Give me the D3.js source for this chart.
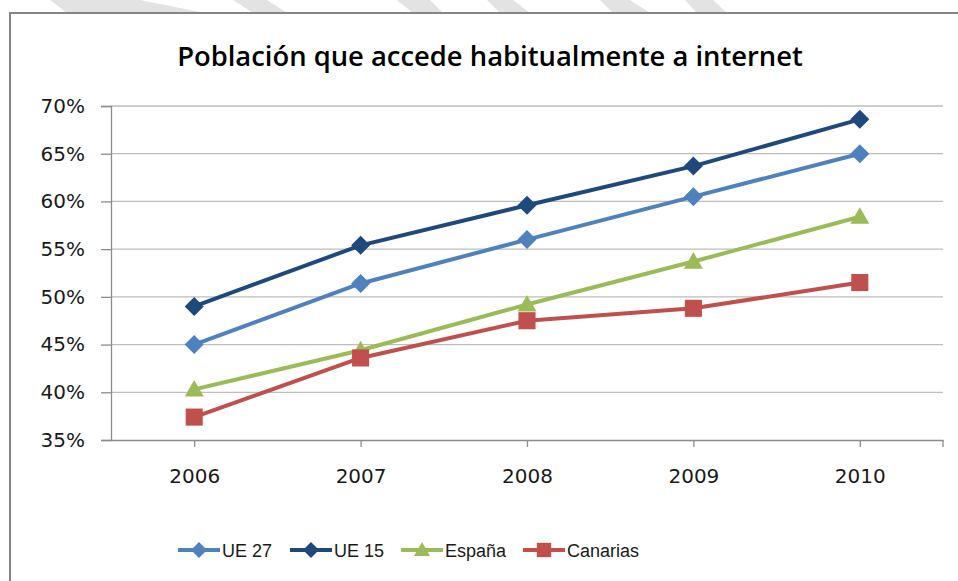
<!DOCTYPE html>
<html>
<head>
<meta charset="utf-8">
<script src="https://cdn.jsdelivr.net/npm/d3@7/dist/d3.min.js"></script>
<style>
  body { margin: 0; background: #fff; }
  svg { display: block; }
</style>
</head>
<body>
<div id="chart"></div>
<script>
// Datos
const years    = ['2006', '2007', '2008', '2009', '2010'];
const ue27     = [45.0, 51.4, 56.0, 60.5, 65.0];
const ue15     = [49.0, 55.4, 59.6, 63.7, 68.6];
const espana   = [40.3, 44.4, 49.2, 53.7, 58.4];
const canarias = [37.4, 43.6, 47.5, 48.8, 51.5];
const yTicks   = [35, 40, 45, 50, 55, 60, 65, 70];

const series = [
    { name: 'UE 27',    values: ue27,     color: '#4F81BD', shape: 'diamond'  },
    { name: 'UE 15',    values: ue15,     color: '#1F497D', shape: 'diamond'  },
    { name: 'España',   values: espana,   color: '#9BBB59', shape: 'triangle' },
    { name: 'Canarias', values: canarias, color: '#C0504D', shape: 'square'   }
];

const W = 958, H = 581;
const plot = { left: 111, right: 943, top: 106, bottom: 440 };

const svg = d3.select('#chart').append('svg')
    .attr('width', W).attr('height', H);

// franjas grises diagonales arriba (artefacto de la captura)
const stripes = [[50, 140, 67, 205], [233, 267, 253, 287], [397, 430, 413, 443],
                 [487, 513, 500, 530], [600, 630, 613, 650], [685, 713, 697, 727]];
svg.append('g').selectAll('path').data(stripes).join('path')
    .attr('d', s => `M${s[0]},0 L${s[1]},0 L${s[3]},13 L${s[2]},13 Z`)
    .attr('fill', '#e3e3e3');

// marco del gráfico
svg.append('rect')
    .attr('x', 10).attr('y', 13)
    .attr('width', W + 20).attr('height', H + 20)
    .attr('fill', '#fff')
    .attr('stroke', '#858585').attr('stroke-width', 2);

const x = d3.scalePoint().domain(years).range([plot.left, plot.right]).padding(0.5);
const y = d3.scaleLinear().domain([35, 70]).range([plot.bottom, plot.top]);

const g = svg.append('g');

// rejilla
g.append('g').selectAll('line').data(yTicks.filter(t => t > 35)).join('line')
    .attr('x1', plot.left).attr('x2', plot.right)
    .attr('y1', d => y(d)).attr('y2', d => y(d))
    .attr('stroke', '#bdbdbd').attr('stroke-width', 1.3);

// eje Y
const yAxis = g.append('g')
    .attr('transform', `translate(${plot.left},0)`)
    .call(d3.axisLeft(y).tickValues(yTicks).tickFormat(d => d + '%').tickSize(10).tickPadding(16));
yAxis.select('.domain').attr('stroke', '#8c8c8c').attr('stroke-width', 1.3);
yAxis.selectAll('.tick line').attr('stroke', '#8c8c8c').attr('stroke-width', 1.3);
yAxis.selectAll('.tick text')
    .style('font-family', '"DejaVu Sans", sans-serif')
    .style('font-size', '20px').style('fill', '#1a1a1a');

// eje X
const xAxis = g.append('g')
    .attr('transform', `translate(0,${plot.bottom})`)
    .call(d3.axisBottom(x).tickSize(7).tickPadding(22).tickSizeOuter(0));
xAxis.select('.domain').attr('stroke', '#8c8c8c').attr('stroke-width', 1.3);
xAxis.selectAll('.tick line').attr('stroke', '#8c8c8c').attr('stroke-width', 1.3);
xAxis.selectAll('.tick text')
    .style('font-family', '"DejaVu Sans", sans-serif')
    .style('font-size', '20px').style('fill', '#1a1a1a');
xAxis.append('line')
    .attr('x1', plot.right).attr('x2', plot.right).attr('y1', 0).attr('y2', 7)
    .attr('stroke', '#8c8c8c').attr('stroke-width', 1.3);

// marcadores
const symbolPath = (shape, s) => {
    if (shape === 'diamond') return `M0,${-s} L${s},0 L0,${s} L${-s},0 Z`;
    if (shape === 'square')  return `M${-s * 0.9},${-s * 0.9} h${s * 1.8} v${s * 1.8} h${-s * 1.8} Z`;
    return `M0,${-s} L${s},${s * 0.75} L${-s},${s * 0.75} Z`;
};

const line = d3.line().x((d, i) => x(years[i])).y(d => y(d));

series.forEach(s => {
    g.append('path')
        .attr('d', line(s.values))
        .attr('fill', 'none').attr('stroke', s.color)
        .attr('stroke-width', 4).attr('stroke-linejoin', 'round');
    g.append('g').selectAll('path').data(s.values).join('path')
        .attr('transform', (d, i) => `translate(${x(years[i])},${y(d)})`)
        .attr('d', symbolPath(s.shape, 9.5))
        .attr('fill', s.color);
});

// título
const title = svg.append('text')
    .attr('x', 490).attr('y', 66)
    .attr('text-anchor', 'middle')
    .style('font-family', '"Open Sans", sans-serif')
    .style('font-weight', '600')
    .style('font-size', '24px')
    .style('fill', '#000')
    .text('Población que accede habitualmente a internet');
const tw = title.node().getComputedTextLength();
title.style('font-size', (24 * 626 / tw).toFixed(2) + 'px');

// leyenda
const legendX = [178, 290, 401, 523];
const legend = svg.append('g').selectAll('g').data(series).join('g')
    .attr('transform', (d, i) => `translate(${legendX[i]},550)`);
legend.append('line')
    .attr('x1', 0).attr('x2', 42)
    .attr('stroke', d => d.color).attr('stroke-width', 4);
legend.append('path')
    .attr('transform', 'translate(21,0)')
    .attr('d', d => symbolPath(d.shape, 8))
    .attr('fill', d => d.color);
legend.append('text')
    .attr('x', 44).attr('y', 7)
    .style('font-family', '"Liberation Sans", sans-serif')
    .style('font-size', '18px').style('fill', '#1a1a1a')
    .text(d => d.name);
</script>
</body>
</html>
